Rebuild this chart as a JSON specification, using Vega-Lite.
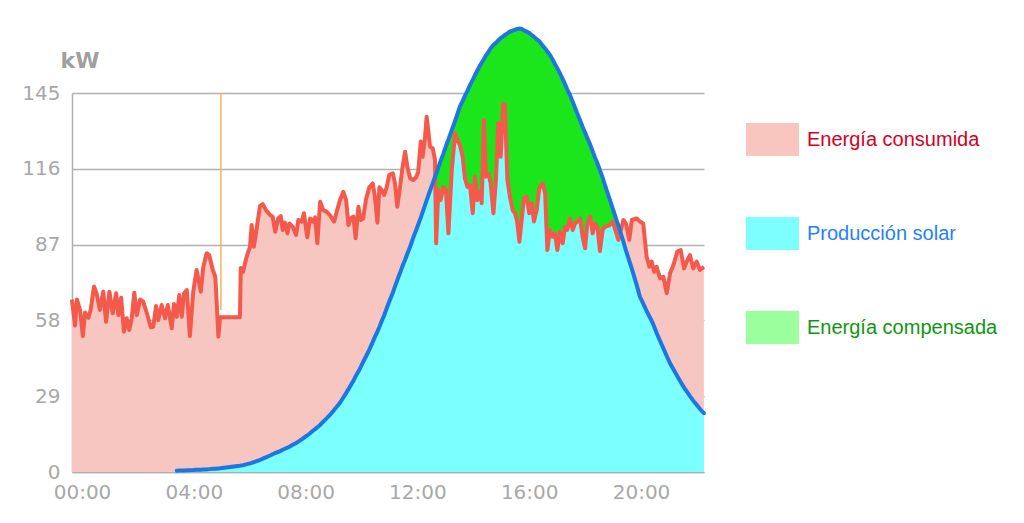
{
  "$schema": "https://vega.github.io/schema/vega-lite/v6.json",
  "width": 632,
  "height": 379,
  "autosize": "none",
  "padding": {"left": 72, "top": 93, "right": 320, "bottom": 51},
  "background": "white",
  "datasets": {
    "energy": [
      {"t":-0.36,"c":66,"s":0},{"t":-0.25,"c":56,"s":0},{"t":-0.18,"c":66,"s":0},{"t":-0.07,"c":62,"s":0},
      {"t":0.03,"c":52,"s":0},{"t":0.11,"c":61,"s":0},{"t":0.23,"c":59,"s":0},{"t":0.31,"c":62,"s":0},
      {"t":0.43,"c":71,"s":0},{"t":0.53,"c":68,"s":0},{"t":0.64,"c":62,"s":0},{"t":0.76,"c":69,"s":0},
      {"t":0.86,"c":57.5,"s":0},{"t":0.98,"c":69,"s":0},{"t":1.10,"c":60.7,"s":0},{"t":1.22,"c":68.4,"s":0},
      {"t":1.30,"c":60,"s":0},{"t":1.40,"c":66.7,"s":0},{"t":1.50,"c":53.7,"s":0},{"t":1.60,"c":58.8,"s":0},
      {"t":1.69,"c":54.3,"s":0},{"t":1.78,"c":58.8,"s":0},{"t":1.87,"c":68.6,"s":0},{"t":1.96,"c":60,"s":0},
      {"t":2.08,"c":66,"s":0},{"t":2.19,"c":65.2,"s":0},{"t":2.34,"c":60,"s":0},{"t":2.46,"c":55.4,"s":0},
      {"t":2.55,"c":55.6,"s":0},{"t":2.65,"c":63.5,"s":0},{"t":2.73,"c":58.1,"s":0},{"t":2.85,"c":63.9,"s":0},
      {"t":2.97,"c":58.8,"s":0},{"t":3.07,"c":63.9,"s":0},{"t":3.21,"c":55,"s":0},{"t":3.29,"c":64.3,"s":0},
      {"t":3.39,"c":59.4,"s":0.5},{"t":3.48,"c":67.7,"s":0.55},{"t":3.57,"c":59.4,"s":0.6},{"t":3.65,"c":68.4,"s":0.6},
      {"t":3.75,"c":69.6,"s":0.65},{"t":3.86,"c":52,"s":0.7},{"t":3.98,"c":69,"s":0.75},{"t":4.10,"c":77.3,"s":0.85},
      {"t":4.25,"c":69,"s":0.9},{"t":4.34,"c":78.5,"s":0.95},{"t":4.46,"c":83.7,"s":1.0},{"t":4.55,"c":83,"s":1.1},
      {"t":4.68,"c":77.3,"s":1.2},{"t":4.77,"c":74.7,"s":1.25},{"t":4.88,"c":51.8,"s":1.35},{"t":4.94,"c":59.2,"s":1.4},
      {"t":5.65,"c":59.2,"s":2.4},{"t":5.68,"c":78,"s":2.45},{"t":5.76,"c":76.5,"s":2.6},{"t":5.87,"c":81.5,"s":2.9},
      {"t":5.94,"c":84,"s":3.1},{"t":6.01,"c":86,"s":3.3},{"t":6.07,"c":94.5,"s":3.5},{"t":6.15,"c":86.2,"s":3.8},
      {"t":6.25,"c":93.2,"s":4.2},{"t":6.37,"c":101.8,"s":4.6},{"t":6.47,"c":102.5,"s":5.1},{"t":6.58,"c":100.2,"s":5.6},
      {"t":6.73,"c":98.3,"s":6.3},{"t":6.82,"c":97.7,"s":6.8},{"t":6.91,"c":91.9,"s":7.2},{"t":7.02,"c":97,"s":7.7},
      {"t":7.11,"c":97.9,"s":8.1},{"t":7.18,"c":92.6,"s":8.5},{"t":7.26,"c":95.4,"s":8.9},{"t":7.35,"c":91.3,"s":9.3},
      {"t":7.42,"c":95.1,"s":9.7},{"t":7.54,"c":93.8,"s":10.4},{"t":7.66,"c":90.7,"s":11.1},{"t":7.74,"c":96.4,"s":11.6},
      {"t":7.86,"c":95.8,"s":12.5},{"t":7.94,"c":99,"s":13.1},{"t":8.06,"c":89.8,"s":14},{"t":8.16,"c":97,"s":14.8},
      {"t":8.25,"c":95.8,"s":15.7},{"t":8.34,"c":97.4,"s":16.4},{"t":8.42,"c":87.5,"s":17.1},{"t":8.52,"c":103.4,"s":18},
      {"t":8.63,"c":100.2,"s":19.3},{"t":8.75,"c":99.6,"s":20.5},{"t":8.87,"c":98.3,"s":21.8},{"t":9.02,"c":95.8,"s":23.7},
      {"t":9.13,"c":100.2,"s":25.2},{"t":9.23,"c":104,"s":26.5},{"t":9.35,"c":107.2,"s":28.5},{"t":9.45,"c":104,"s":30.2},
      {"t":9.53,"c":94.5,"s":31.6},{"t":9.61,"c":97,"s":33.1},{"t":9.71,"c":97.7,"s":34.9},{"t":9.79,"c":89.4,"s":36.6},
      {"t":9.89,"c":101.5,"s":38.4},{"t":9.97,"c":96.4,"s":40.1},{"t":10.06,"c":97,"s":42.1},{"t":10.16,"c":104.3,"s":44.2},
      {"t":10.28,"c":108.9,"s":46.8},{"t":10.40,"c":110.4,"s":49.7},{"t":10.48,"c":105.3,"s":51.7},{"t":10.57,"c":95.4,"s":53.7},
      {"t":10.64,"c":108.9,"s":55.5},{"t":10.72,"c":107.9,"s":57.7},{"t":10.81,"c":106,"s":59.9},{"t":10.90,"c":108.9,"s":62.6},
      {"t":10.99,"c":113.6,"s":65.1},{"t":11.12,"c":114.3,"s":68.6},{"t":11.20,"c":110.4,"s":71},{"t":11.28,"c":101.5,"s":73.4},
      {"t":11.38,"c":109.1,"s":76.2},{"t":11.47,"c":116.8,"s":78.9},{"t":11.56,"c":122.5,"s":81.2},{"t":11.64,"c":116.8,"s":83.5},
      {"t":11.74,"c":112.4,"s":86.2},{"t":11.85,"c":111.7,"s":89.6},{"t":11.95,"c":112.7,"s":92.4},{"t":12.03,"c":114.9,"s":94.7},
      {"t":12.12,"c":126.4,"s":97.3},{"t":12.19,"c":120.6,"s":99.5},{"t":12.27,"c":127.7,"s":102},{"t":12.33,"c":135.9,"s":103.9},
      {"t":12.40,"c":129.6,"s":106.1},{"t":12.45,"c":124.5,"s":107.6},{"t":12.55,"c":123.8,"s":110.5},{"t":12.63,"c":119.4,"s":113},
      {"t":12.67,"c":87.5,"s":114},{"t":12.75,"c":107.9,"s":116.5},{"t":12.83,"c":104,"s":119},{"t":12.93,"c":109.1,"s":121.8},
      {"t":13.02,"c":107.9,"s":124.7},{"t":13.11,"c":91.3,"s":127.2},{"t":13.23,"c":115.5,"s":130.8},{"t":13.35,"c":129.6,"s":134.4},
      {"t":13.43,"c":127,"s":136.9},{"t":13.52,"c":125.1,"s":139.8},{"t":13.62,"c":120.6,"s":142},{"t":13.70,"c":112.4,"s":143.9},
      {"t":13.79,"c":109.1,"s":145.8},{"t":13.88,"c":109.8,"s":148},{"t":13.98,"c":99,"s":150},{"t":14.06,"c":113,"s":151.8},
      {"t":14.14,"c":104,"s":153.5},{"t":14.24,"c":107.2,"s":155.5},{"t":14.30,"c":102.8,"s":156.6},{"t":14.38,"c":134.7,"s":158},
      {"t":14.45,"c":113,"s":159.3},{"t":14.54,"c":114.3,"s":160.7},{"t":14.62,"c":110.4,"s":162.1},{"t":14.72,"c":99,"s":163.4},
      {"t":14.81,"c":111.7,"s":164.2},{"t":14.89,"c":133.4,"s":165.1},{"t":14.98,"c":120.6,"s":166},{"t":15.07,"c":141,"s":166.7},
      {"t":15.13,"c":140.4,"s":167.2},{"t":15.22,"c":111.7,"s":167.8},{"t":15.31,"c":105.3,"s":168.5},{"t":15.41,"c":100.2,"s":168.9},
      {"t":15.49,"c":99,"s":169.2},{"t":15.57,"c":95.8,"s":169.5},{"t":15.65,"c":88.1,"s":169.7},{"t":15.73,"c":96.4,"s":169.5},
      {"t":15.81,"c":104.7,"s":169},{"t":15.91,"c":105.3,"s":168.5},{"t":16.00,"c":99,"s":168},{"t":16.09,"c":102.8,"s":167.2},
      {"t":16.17,"c":95.8,"s":166.5},{"t":16.27,"c":100.2,"s":165.6},{"t":16.36,"c":108.5,"s":164.8},{"t":16.48,"c":110.4,"s":163.2},
      {"t":16.57,"c":106.6,"s":162},{"t":16.65,"c":84.9,"s":160.9},{"t":16.74,"c":92.6,"s":159.6},{"t":16.84,"c":90,"s":157.7},
      {"t":16.92,"c":91.3,"s":156.1},{"t":17.01,"c":84.9,"s":154.4},{"t":17.10,"c":91.9,"s":152.5},{"t":17.20,"c":87.5,"s":150.3},
      {"t":17.28,"c":93.8,"s":148.4},{"t":17.36,"c":92.6,"s":146.4},{"t":17.46,"c":97,"s":144.2},{"t":17.56,"c":92.6,"s":141.6},
      {"t":17.64,"c":95.1,"s":139.4},{"t":17.72,"c":95.8,"s":137.2},{"t":17.82,"c":97,"s":134.6},{"t":17.91,"c":90,"s":132.1},
      {"t":18.00,"c":85.6,"s":129.9},{"t":18.08,"c":95.1,"s":127.8},{"t":18.18,"c":97.7,"s":125.3},{"t":18.27,"c":91.3,"s":122.7},
      {"t":18.35,"c":95.1,"s":120.4},{"t":18.44,"c":93.8,"s":118.1},{"t":18.53,"c":84.5,"s":115.5},{"t":18.63,"c":92.6,"s":112.5},
      {"t":18.71,"c":93.8,"s":109.8},{"t":18.89,"c":94.5,"s":104},{"t":18.99,"c":95.8,"s":100.8},{"t":19.19,"c":88.8,"s":94.3},
      {"t":19.37,"c":96.4,"s":88.2},{"t":19.46,"c":95.1,"s":84.8},{"t":19.58,"c":88.8,"s":80.8},{"t":19.67,"c":96.4,"s":77.8},
      {"t":19.85,"c":97,"s":71.4},{"t":19.96,"c":95.8,"s":67.1},{"t":20.08,"c":95.1,"s":64.4},{"t":20.20,"c":82.4,"s":61.6},
      {"t":20.30,"c":78.5,"s":59.5},{"t":20.38,"c":80.5,"s":57.9},{"t":20.47,"c":76.6,"s":55.7},{"t":20.56,"c":78.5,"s":53.2},
      {"t":20.68,"c":74.1,"s":50.2},{"t":20.80,"c":74.7,"s":47.3},{"t":20.92,"c":68.4,"s":44.4},{"t":21.04,"c":76,"s":41.6},
      {"t":21.16,"c":79.2,"s":39.3},{"t":21.30,"c":84.3,"s":36.6},{"t":21.42,"c":84.9,"s":34.4},{"t":21.54,"c":77.9,"s":32.3},
      {"t":21.66,"c":81.1,"s":30.5},{"t":21.75,"c":83,"s":29},{"t":21.87,"c":77.9,"s":27.3},{"t":21.99,"c":80.5,"s":25.7},
      {"t":22.11,"c":77.3,"s":24.1},{"t":22.25,"c":78.5,"s":22.5}
    ],
    "marker": [{"t": 4.97, "lo": 62, "hi": 145}],
    "legend": [{"k": "Energía consumida"}, {"k": "Producción solar"}, {"k": "Energía compensada"}]
  },
  "encoding": {
    "x": {
      "field": "t",
      "type": "quantitative",
      "scale": {"domain": [-0.358, 22.254], "nice": false, "zero": false},
      "axis": {
        "values": [0, 4, 8, 12, 16, 20],
        "labelExpr": "(datum.value < 10 ? '0' : '') + datum.value + ':00'",
        "grid": false,
        "title": null,
        "labelPadding": 10
      }
    }
  },
  "layer": [
    {
      "data": {"name": "energy"},
      "mark": {"type": "area", "color": "#1be61b"},
      "encoding": {
        "y": {
          "field": "s",
          "type": "quantitative",
          "scale": {"domain": [0, 145], "nice": false},
          "axis": {
            "values": [0, 29, 58, 87, 116, 145],
            "grid": true,
            "labelPadding": 12,
            "title": "kW",
            "titleAngle": 0,
            "titleAlign": "left",
            "titleBaseline": "alphabetic",
            "titleX": -12,
            "titleY": -26,
            "titleFontSize": 22,
            "titleFontWeight": "bold",
            "titleColor": "#a0a0a0"
          }
        }
      }
    },
    {
      "data": {"name": "energy"},
      "mark": {"type": "area", "color": "#f8c6c0"},
      "encoding": {"y": {"field": "c", "type": "quantitative", "title": "kW"}}
    },
    {
      "data": {"name": "energy"},
      "transform": [
        {"fold": ["c", "s"], "as": ["k", "v"]},
        {"aggregate": [{"op": "min", "field": "v", "as": "m"}], "groupby": ["t"]}
      ],
      "mark": {"type": "area", "color": "#7cffff"},
      "encoding": {"y": {"field": "m", "type": "quantitative", "title": "kW"}}
    },
    {
      "data": {"name": "marker"},
      "mark": {"type": "rule", "color": "#f5b45a", "strokeWidth": 1.5},
      "encoding": {
        "y": {"field": "lo", "type": "quantitative", "title": "kW"},
        "y2": {"field": "hi"}
      }
    },
    {
      "data": {"name": "energy"},
      "mark": {"type": "line", "color": "#f45a4b", "strokeWidth": 4, "strokeJoin": "round"},
      "encoding": {"y": {"field": "c", "type": "quantitative", "title": "kW"}}
    },
    {
      "data": {"name": "energy"},
      "transform": [{"filter": "datum.s > 0"}],
      "mark": {"type": "line", "color": "#1f76e0", "strokeWidth": 4, "strokeCap": "round"},
      "encoding": {"y": {"field": "s", "type": "quantitative", "title": "kW"}}
    },
    {
      "data": {"name": "legend"},
      "mark": {"type": "square", "opacity": 0},
      "encoding": {
        "x": {"value": 0},
        "y": {"value": 0},
        "color": {
          "field": "k",
          "type": "nominal",
          "scale": {
            "domain": ["Energía consumida", "Producción solar", "Energía compensada"],
            "range": ["#f8c5bf", "#7dffff", "#9bff9b"]
          },
          "legend": {
            "orient": "none",
            "legendX": 674,
            "legendY": 20,
            "title": null,
            "padding": 0,
            "symbolType": "M-1,-0.625H1V0.625H-1Z",
            "symbolSize": 2809,
            "symbolOpacity": 1,
            "symbolStrokeWidth": 0,
            "labelFont": "Liberation Sans",
            "labelFontSize": 20,
            "labelOffset": 8,
            "labelLimit": 300,
            "rowPadding": 50,
            "encode": {
              "labels": {
                "update": {
                  "fill": {"signal": "datum.value == 'Energía consumida' ? '#d3001f' : datum.value == 'Producción solar' ? '#2680ff' : '#0f960f'"}
                }
              }
            }
          }
        }
      }
    }
  ],
  "config": {
    "view": {"stroke": null},
    "axis": {
      "labelFont": "DejaVu Sans",
      "labelFontSize": 20,
      "labelColor": "#a8a8a8",
      "ticks": false,
      "domainColor": "#b0b0b0",
      "domainWidth": 1.5,
      "gridColor": "#b0b0b0",
      "gridWidth": 1.5,
      "titleFont": "DejaVu Sans"
    }
  }
}
